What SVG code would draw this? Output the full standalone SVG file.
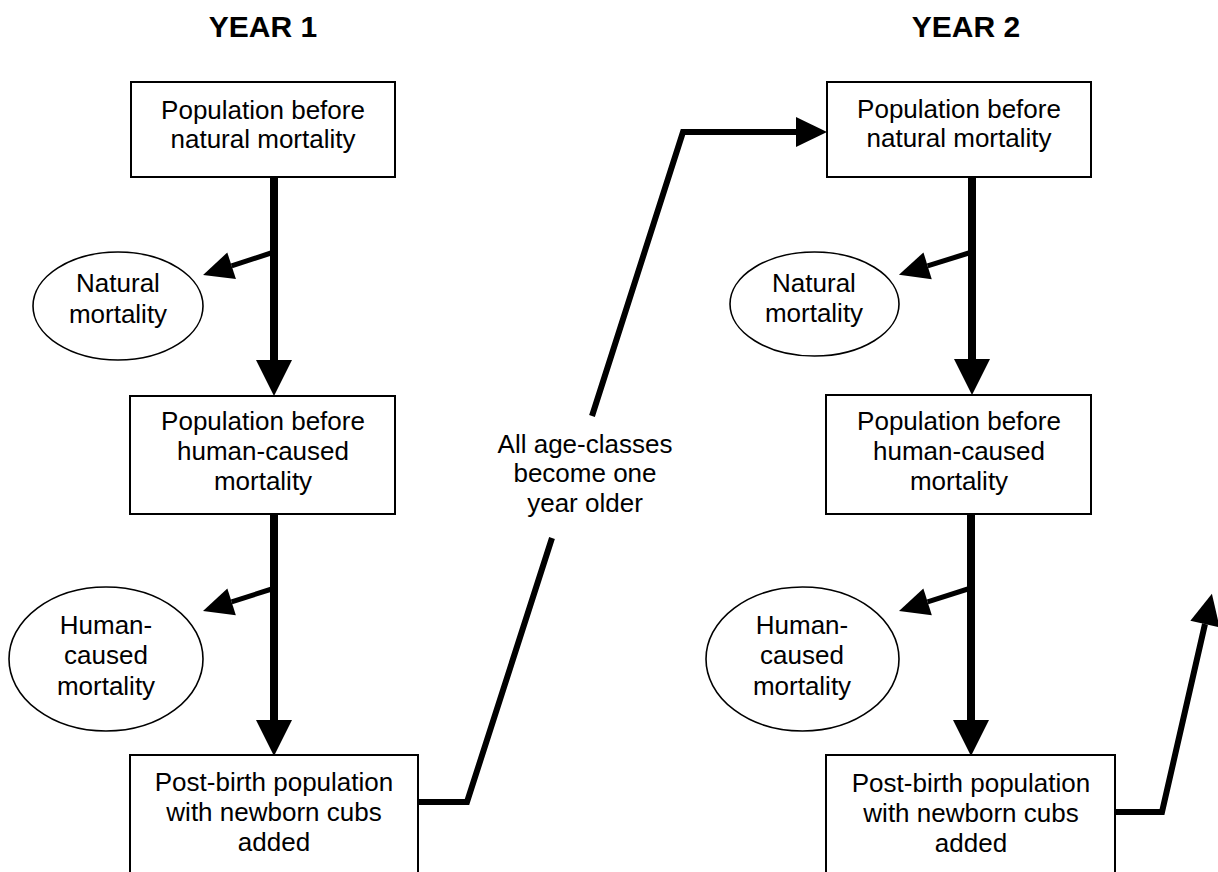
<svg xmlns="http://www.w3.org/2000/svg" width="1218" height="872" viewBox="0 0 1218 872">
<style>
.box{fill:#fff;stroke:#000;stroke-width:2}
.ell{fill:#fff;stroke:#000;stroke-width:1.6}
.t{font-family:"Liberation Sans",Arial,sans-serif;font-size:26px;fill:#000;text-anchor:middle}
.title{font-family:"Liberation Sans",Arial,sans-serif;font-size:30px;font-weight:bold;fill:#000;text-anchor:middle}
.main{fill:none;stroke:#000;stroke-width:8;marker-end:url(#big)}
.side{fill:none;stroke:#000;stroke-width:5;marker-end:url(#small)}
.link{fill:none;stroke:#000;stroke-width:6;stroke-linejoin:miter}
</style>
<defs>
<marker id="big" viewBox="0 -18 36 36" markerWidth="36" markerHeight="36" refX="0" refY="0" markerUnits="userSpaceOnUse" orient="auto" overflow="visible"><path d="M0,-18 L36,0 L0,18 z" fill="#000"/></marker>
<marker id="mid" viewBox="0 -15 31 30" markerWidth="31" markerHeight="30" refX="0" refY="0" markerUnits="userSpaceOnUse" orient="auto" overflow="visible"><path d="M0,-15 L31,0 L0,15 z" fill="#000"/></marker>
<marker id="small" viewBox="0 -14 30 28" markerWidth="30" markerHeight="28" refX="0" refY="0" markerUnits="userSpaceOnUse" orient="auto" overflow="visible"><path d="M0,-14 L30,0 L0,14 z" fill="#000"/></marker>
</defs>
<rect width="1218" height="872" fill="#fff"/>
<text class="title" x="263" y="37">YEAR 1</text>
<text class="title" x="966" y="37">YEAR 2</text>
<g id="connectors">
<path class="main" d="M274,177 V360"/>
<path class="main" d="M274,514 V720"/>
<path class="main" d="M972,177 V359"/>
<path class="main" d="M971,514 V720"/>
<path class="side" d="M274,252 L231.6,265.8"/>
<path class="side" d="M275,588 L231.6,601.8"/>
<path class="side" d="M972,252 L927.6,265.8"/>
<path class="side" d="M971,588 L927.6,601.8"/>
<path class="link" d="M418,802 H467 L552,538"/>
<path class="link" d="M592,416 L683,132 H796" marker-end="url(#mid)"/>
<path class="link" d="M1115,812 H1162 L1205,624" marker-end="url(#mid)"/>
</g>
<g id="y1-box1"><rect class="box" x="131" y="82" width="264" height="95"/><text class="t" x="263" y="119">Population before</text><text class="t" x="263" y="148">natural mortality</text></g>
<g id="y1-natural"><ellipse class="ell" cx="118" cy="306" rx="85" ry="54"/><text class="t" x="118" y="292">Natural</text><text class="t" x="118" y="323">mortality</text></g>
<g id="y1-box2"><rect class="box" x="130" y="396" width="265" height="118"/><text class="t" x="263" y="430">Population before</text><text class="t" x="263" y="460">human-caused</text><text class="t" x="263" y="490">mortality</text></g>
<g id="y1-human"><ellipse class="ell" cx="106" cy="659" rx="97" ry="72"/><text class="t" x="106" y="634">Human-</text><text class="t" x="106" y="664">caused</text><text class="t" x="106" y="695">mortality</text></g>
<g id="y1-box3"><rect class="box" x="130" y="755" width="288" height="130"/><text class="t" x="274" y="791">Post-birth population</text><text class="t" x="274" y="821">with newborn cubs</text><text class="t" x="274" y="851">added</text></g>
<g id="label"><text class="t" x="585" y="453">All age-classes</text><text class="t" x="585" y="482">become one</text><text class="t" x="585" y="512">year older</text></g>
<g id="y2-box1"><rect class="box" x="827" y="82" width="264" height="95"/><text class="t" x="959" y="118">Population before</text><text class="t" x="959" y="147">natural mortality</text></g>
<g id="y2-natural"><ellipse class="ell" cx="814.5" cy="304" rx="84.5" ry="52"/><text class="t" x="814" y="292">Natural</text><text class="t" x="814" y="322">mortality</text></g>
<g id="y2-box2"><rect class="box" x="826" y="395" width="265" height="119"/><text class="t" x="959" y="430">Population before</text><text class="t" x="959" y="460">human-caused</text><text class="t" x="959" y="490">mortality</text></g>
<g id="y2-human"><ellipse class="ell" cx="802.5" cy="659" rx="96.5" ry="72"/><text class="t" x="802" y="634">Human-</text><text class="t" x="802" y="664">caused</text><text class="t" x="802" y="695">mortality</text></g>
<g id="y2-box3"><rect class="box" x="826" y="755" width="289" height="130"/><text class="t" x="971" y="792">Post-birth population</text><text class="t" x="971" y="822">with newborn cubs</text><text class="t" x="971" y="852">added</text></g>
</svg>
